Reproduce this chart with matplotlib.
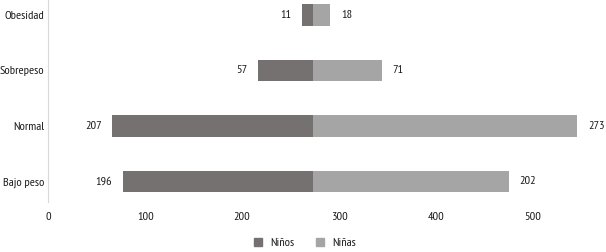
import numpy as np
import matplotlib.pyplot as plt

categories = ['Bajo peso', 'Normal', 'Sobrepeso', 'Obesidad']
ninos = [196, 207, 57, 11]
ninas = [202, 273, 71, 18]
xticks = [0, 100, 200, 300, 400, 500]

plt.rcParams['font.family'] = ['PT Sans Narrow', 'Archivo Narrow', 'DejaVu Sans']
plt.rcParams['font.size'] = 8.8

c_ninos = '#767171'
c_ninas = '#A5A5A5'
text_c = '#1a1a1a'

W, H = 606, 252
fig = plt.figure(figsize=(W / 100, H / 100), dpi=100)

# axes in pixel terms: left at 48, top at 0, bottom at 202, running to the right edge
left_px, bottom_px, top_px = 48.3, 202, 0
ax = fig.add_axes([left_px / W, 1 - bottom_px / H, (W - left_px) / W, (bottom_px - top_px) / H])

center = max(ninas)
y = np.arange(len(categories))
h = 0.39
ninos_arr = np.array(ninos)
ninas_arr = np.array(ninas)

ax.barh(y, ninos_arr, left=center - ninos_arr, height=h, color=c_ninos, label='Niños')
ax.barh(y, ninas_arr, left=center, height=h, color=c_ninas, label='Niñas')

for yi, a, b in zip(y, ninos, ninas):
    ax.text(center - a - 11, yi, str(a), ha='right', va='center', color=text_c)
    ax.text(center + b + 11, yi, str(b), ha='left', va='center', color=text_c)

ax.set_xlim(0, (W - left_px) / 0.969)
step = (181.5 - 14.8) / 3
ax.set_ylim(-(bottom_px - 181.5) / step, 3 + 14.8 / step)

ax.set_xticks(xticks)
ax.set_xticklabels([str(t) for t in xticks], color=text_c)
ax.set_yticks(y)
ax.set_yticklabels(categories, color=text_c)
ax.tick_params(axis='both', length=0)
ax.tick_params(axis='x', pad=7)
ax.tick_params(axis='y', pad=3)

for s in ['top', 'right', 'bottom']:
    ax.spines[s].set_visible(False)
ax.spines['left'].set_color('#D9D9D9')
ax.spines['left'].set_linewidth(0.8)

handles = [plt.Rectangle((0, 0), 1, 1, color=c_ninos), plt.Rectangle((0, 0), 1, 1, color=c_ninas)]
fig.legend(handles, ['Niños', 'Niñas'], loc='center', bbox_to_anchor=(305 / W, 1 - 243 / H),
           ncol=2, frameon=False, handlelength=0.6, handleheight=0.6, handletextpad=0.7,
           columnspacing=1.8, labelcolor=text_c)

fig.savefig('out.png', dpi=100)
